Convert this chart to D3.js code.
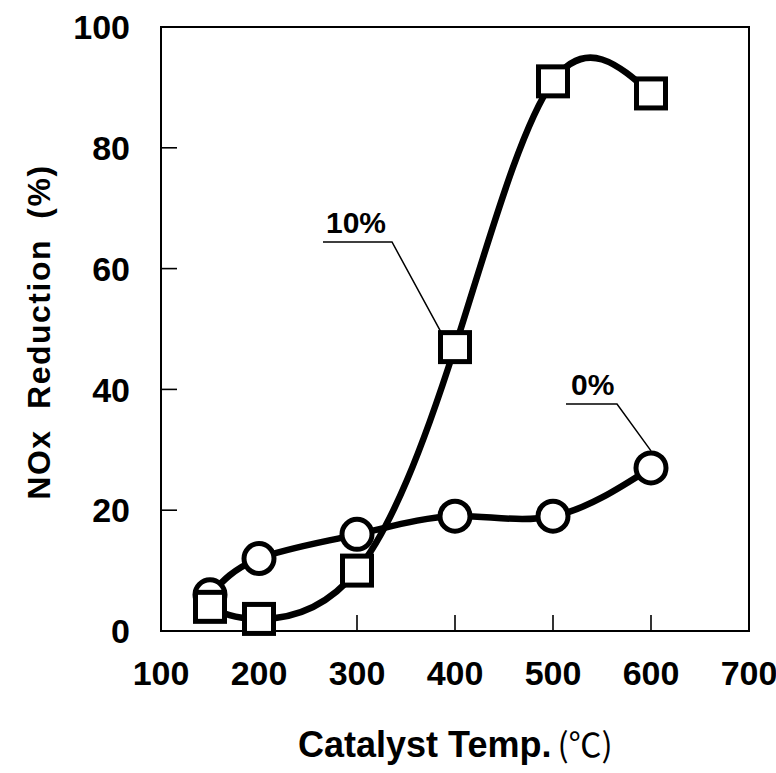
<!DOCTYPE html>
<html>
<head>
<meta charset="utf-8">
<script src="https://cdn.jsdelivr.net/npm/d3@7"></script>
<style>
  html, body { margin: 0; padding: 0; background: #fff; }
  svg { display: block; }
</style>
</head>
<body>
<svg id="chart" width="776" height="773"></svg>
<script>
// Catalyst temperature (°C) at each measurement
const temps = [150, 200, 300, 400, 500, 600];
// NOx reduction (%) without additive
const series0 = [6, 12, 16, 19, 19, 27];
// NOx reduction (%) with 10% additive
const series10 = [4, 2, 10, 47, 91, 89];
// Axis ticks
const xTicks = [100, 200, 300, 400, 500, 600, 700];
const yTicks = [0, 20, 40, 60, 80, 100];
// Series labels
const seriesNames = ["0%", "10%"];

const svg = d3.select("#chart");
const font = "'Liberation Sans', Arial, Helvetica, sans-serif";

const x = d3.scaleLinear().domain([100, 700]).range([161, 749]);
const y = d3.scaleLinear().domain([0, 100]).range([631, 27]);

// Frame
svg.append("rect")
  .attr("x", x(100)).attr("y", y(100))
  .attr("width", x(700) - x(100)).attr("height", y(0) - y(100))
  .attr("fill", "none").attr("stroke", "#000").attr("stroke-width", 2);

// Inward ticks
const tickLen = 16;
svg.append("g").selectAll("line")
  .data(xTicks.filter(d => d > 100 && d < 700))
  .join("line")
  .attr("x1", d => x(d)).attr("x2", d => x(d))
  .attr("y1", y(0)).attr("y2", y(0) - tickLen)
  .attr("stroke", "#000").attr("stroke-width", 1.6);
svg.append("g").selectAll("line")
  .data(yTicks.filter(d => d > 0 && d < 100))
  .join("line")
  .attr("x1", x(100)).attr("x2", x(100) + tickLen)
  .attr("y1", d => y(d)).attr("y2", d => y(d))
  .attr("stroke", "#000").attr("stroke-width", 1.6);

// Tick labels
svg.append("g").selectAll("text")
  .data(xTicks)
  .join("text")
  .attr("x", d => x(d)).attr("y", 685)
  .attr("text-anchor", "middle")
  .attr("font-family", font).attr("font-weight", "bold").attr("font-size", 34)
  .text(d => d);
svg.append("g").selectAll("text")
  .data(yTicks)
  .join("text")
  .attr("x", 130).attr("y", d => y(d))
  .attr("dy", "0.36em")
  .attr("text-anchor", "end")
  .attr("font-family", font).attr("font-weight", "bold").attr("font-size", 34)
  .text(d => d);

// Axis titles
const xt = svg.append("text")
  .attr("x", 298).attr("y", 757)
  .attr("font-family", font).attr("font-size", 36);
xt.append("tspan").attr("font-weight", "bold").text("Catalyst Temp.");
xt.append("tspan").attr("dx", 6)
  .attr("font-family", "'Noto Sans CJK JP', 'DejaVu Sans', sans-serif")
  .attr("font-size", 33).attr("font-weight", "normal")
  .text("(℃)");

svg.append("text")
  .attr("transform", "translate(50,332) rotate(-90)")
  .attr("text-anchor", "middle")
  .attr("font-family", font).attr("font-weight", "bold").attr("font-size", 32)
  .attr("word-spacing", 10).attr("letter-spacing", 1.5)
  .text("NOx Reduction (%)");

// Curves
const line = d3.line()
  .x((d, i) => x(temps[i]))
  .y(d => y(d))
  .curve(d3.curveNatural);

function drawSeries(values, shape) {
  svg.append("path")
    .attr("d", line(values))
    .attr("fill", "none").attr("stroke", "#000")
    .attr("stroke-width", 6.5).attr("stroke-linejoin", "round");
  const g = svg.append("g");
  if (shape === "circle") {
    g.selectAll("circle").data(values).join("circle")
      .attr("cx", (d, i) => x(temps[i])).attr("cy", d => y(d))
      .attr("r", 15)
      .attr("fill", "#fff").attr("stroke", "#000").attr("stroke-width", 5);
  } else {
    const s = 29;
    g.selectAll("rect").data(values).join("rect")
      .attr("x", (d, i) => x(temps[i]) - s / 2).attr("y", d => y(d) - s / 2)
      .attr("width", s).attr("height", s)
      .attr("fill", "#fff").attr("stroke", "#000").attr("stroke-width", 5);
  }
}
drawSeries(series0, "circle");
drawSeries(series10, "square");

// Leader-line labels
function leader(name, tx, ty, ux1, ux2, uy, px, py) {
  svg.append("text")
    .attr("x", tx).attr("y", ty)
    .attr("font-family", font).attr("font-weight", "bold").attr("font-size", 30)
    .text(name);
  svg.append("polyline")
    .attr("points", [[ux1, uy], [ux2, uy], [px, py]].map(p => p.join(",")).join(" "))
    .attr("fill", "none").attr("stroke", "#000").attr("stroke-width", 1.5);
}
// 10% label points to the 400 °C square's top-left corner
leader(seriesNames[1], 326, 233, 323, 392, 242, x(400) - 14, y(series10[3]) - 15);
// 0% label points to the top of the 600 °C circle
leader(seriesNames[0], 571, 395, 566, 617, 404, x(600), y(series0[5]) - 17);
</script>
</body>
</html>
